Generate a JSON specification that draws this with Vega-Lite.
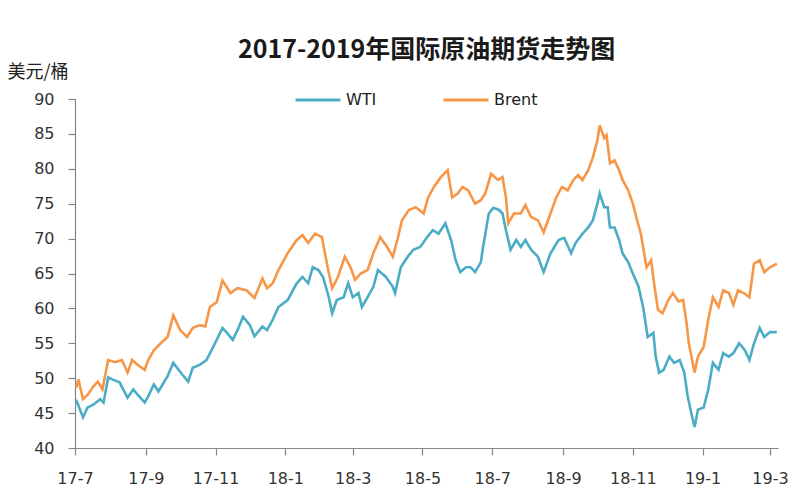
{
  "$schema": "https://vega.github.io/schema/vega-lite/v6.json",
  "autosize": {"type": "none"},
  "width": 703,
  "height": 349,
  "padding": {"left": 75, "top": 99, "right": 22, "bottom": 52},
  "background": "white",
  "title": {"text": "2017-2019年国际原油期货走势图", "font": "Noto Sans CJK SC", "fontSize": 25, "fontWeight": "bold", "color": "#1a1a1a", "anchor": "middle", "offset": 0},
  "config": {
    "view": {"stroke": null},
    "axis": {"domainColor": "#868686", "tickColor": "#868686", "labelColor": "#333333", "labelFont": "DejaVu Sans", "labelFontSize": 16, "grid": false, "tickSize": 7, "domainWidth": 1.2, "tickWidth": 1.2}
  },
  "data": {"values": [
    {"d":"2017-07-02","s":"WTI","p":46.9},{"d":"2017-07-08","s":"WTI","p":44.4},{"d":"2017-07-12","s":"WTI","p":45.8},{"d":"2017-07-17","s":"WTI","p":46.2},{"d":"2017-07-23","s":"WTI","p":47.0},{"d":"2017-07-26","s":"WTI","p":46.5},{"d":"2017-07-30","s":"WTI","p":50.1},{"d":"2017-08-03","s":"WTI","p":49.8},{"d":"2017-08-09","s":"WTI","p":49.4},{"d":"2017-08-16","s":"WTI","p":47.2},{"d":"2017-08-21","s":"WTI","p":48.4},{"d":"2017-08-25","s":"WTI","p":47.6},{"d":"2017-08-31","s":"WTI","p":46.5},{"d":"2017-09-03","s":"WTI","p":47.4},{"d":"2017-09-08","s":"WTI","p":49.1},{"d":"2017-09-12","s":"WTI","p":48.1},{"d":"2017-09-20","s":"WTI","p":50.3},{"d":"2017-09-25","s":"WTI","p":52.2},{"d":"2017-10-03","s":"WTI","p":50.5},{"d":"2017-10-08","s":"WTI","p":49.5},{"d":"2017-10-12","s":"WTI","p":51.5},{"d":"2017-10-18","s":"WTI","p":51.9},{"d":"2017-10-24","s":"WTI","p":52.6},{"d":"2017-10-30","s":"WTI","p":54.5},{"d":"2017-11-07","s":"WTI","p":57.2},{"d":"2017-11-11","s":"WTI","p":56.5},{"d":"2017-11-16","s":"WTI","p":55.5},{"d":"2017-11-21","s":"WTI","p":57.2},{"d":"2017-11-25","s":"WTI","p":58.8},{"d":"2017-12-01","s":"WTI","p":57.6},{"d":"2017-12-05","s":"WTI","p":56.0},{"d":"2017-12-12","s":"WTI","p":57.4},{"d":"2017-12-16","s":"WTI","p":56.9},{"d":"2017-12-21","s":"WTI","p":58.4},{"d":"2017-12-26","s":"WTI","p":60.2},
    {"d":"2018-01-03","s":"WTI","p":61.2},{"d":"2018-01-11","s":"WTI","p":63.6},{"d":"2018-01-16","s":"WTI","p":64.5},{"d":"2018-01-21","s":"WTI","p":63.6},{"d":"2018-01-25","s":"WTI","p":65.9},{"d":"2018-01-30","s":"WTI","p":65.5},{"d":"2018-02-03","s":"WTI","p":64.5},{"d":"2018-02-08","s":"WTI","p":61.6},{"d":"2018-02-11","s":"WTI","p":59.3},{"d":"2018-02-15","s":"WTI","p":61.2},{"d":"2018-02-21","s":"WTI","p":61.6},{"d":"2018-02-25","s":"WTI","p":63.6},{"d":"2018-03-01","s":"WTI","p":61.6},{"d":"2018-03-06","s":"WTI","p":62.2},{"d":"2018-03-09","s":"WTI","p":60.2},{"d":"2018-03-14","s":"WTI","p":61.6},{"d":"2018-03-19","s":"WTI","p":63.1},{"d":"2018-03-23","s":"WTI","p":65.5},{"d":"2018-03-30","s":"WTI","p":64.5},{"d":"2018-04-05","s":"WTI","p":63.1},{"d":"2018-04-07","s":"WTI","p":62.2},{"d":"2018-04-12","s":"WTI","p":65.9},{"d":"2018-04-18","s":"WTI","p":67.4},{"d":"2018-04-23","s":"WTI","p":68.4},{"d":"2018-04-29","s":"WTI","p":68.8},{"d":"2018-05-05","s":"WTI","p":70.2},{"d":"2018-05-10","s":"WTI","p":71.2},{"d":"2018-05-15","s":"WTI","p":70.7},{"d":"2018-05-21","s":"WTI","p":72.2},{"d":"2018-05-26","s":"WTI","p":69.8},{"d":"2018-05-30","s":"WTI","p":66.9},{"d":"2018-06-03","s":"WTI","p":65.2},{"d":"2018-06-08","s":"WTI","p":65.9},{"d":"2018-06-12","s":"WTI","p":65.9},{"d":"2018-06-16","s":"WTI","p":65.2},{"d":"2018-06-21","s":"WTI","p":66.6},{"d":"2018-06-23","s":"WTI","p":68.8},{"d":"2018-06-28","s":"WTI","p":73.6},{"d":"2018-07-02","s":"WTI","p":74.4},{"d":"2018-07-07","s":"WTI","p":74.1},{"d":"2018-07-10","s":"WTI","p":73.6},{"d":"2018-07-13","s":"WTI","p":71.2},{"d":"2018-07-17","s":"WTI","p":68.4},{"d":"2018-07-22","s":"WTI","p":69.8},{"d":"2018-07-26","s":"WTI","p":68.8},{"d":"2018-07-30","s":"WTI","p":69.8},{"d":"2018-08-04","s":"WTI","p":68.4},{"d":"2018-08-10","s":"WTI","p":67.4},{"d":"2018-08-15","s":"WTI","p":65.2},{"d":"2018-08-21","s":"WTI","p":67.9},{"d":"2018-08-28","s":"WTI","p":69.8},{"d":"2018-09-02","s":"WTI","p":70.1},{"d":"2018-09-08","s":"WTI","p":67.9},{"d":"2018-09-12","s":"WTI","p":69.4},{"d":"2018-09-18","s":"WTI","p":70.7},{"d":"2018-09-23","s":"WTI","p":71.6},{"d":"2018-09-27","s":"WTI","p":72.6},{"d":"2018-10-01","s":"WTI","p":75.0},{"d":"2018-10-03","s":"WTI","p":76.5},{"d":"2018-10-07","s":"WTI","p":74.5},{"d":"2018-10-10","s":"WTI","p":74.5},{"d":"2018-10-12","s":"WTI","p":71.6},{"d":"2018-10-16","s":"WTI","p":71.6},{"d":"2018-10-20","s":"WTI","p":69.8},{"d":"2018-10-23","s":"WTI","p":67.9},{"d":"2018-10-28","s":"WTI","p":66.6},{"d":"2018-11-01","s":"WTI","p":65.0},{"d":"2018-11-06","s":"WTI","p":63.1},{"d":"2018-11-10","s":"WTI","p":60.2},{"d":"2018-11-14","s":"WTI","p":55.9},{"d":"2018-11-19","s":"WTI","p":56.5},{"d":"2018-11-21","s":"WTI","p":53.1},{"d":"2018-11-24","s":"WTI","p":50.8},{"d":"2018-11-28","s":"WTI","p":51.2},{"d":"2018-12-03","s":"WTI","p":53.1},{"d":"2018-12-07","s":"WTI","p":52.2},{"d":"2018-12-12","s":"WTI","p":52.6},{"d":"2018-12-16","s":"WTI","p":50.8},{"d":"2018-12-19","s":"WTI","p":47.4},{"d":"2018-12-22","s":"WTI","p":45.1},{"d":"2018-12-25","s":"WTI","p":43.0},{"d":"2018-12-28","s":"WTI","p":45.5},{"d":"2019-01-02","s":"WTI","p":45.8},{"d":"2019-01-06","s":"WTI","p":48.4},{"d":"2019-01-10","s":"WTI","p":52.2},{"d":"2019-01-15","s":"WTI","p":51.2},{"d":"2019-01-19","s":"WTI","p":53.6},{"d":"2019-01-24","s":"WTI","p":53.1},{"d":"2019-01-28","s":"WTI","p":53.6},{"d":"2019-02-02","s":"WTI","p":55.0},{"d":"2019-02-07","s":"WTI","p":54.0},{"d":"2019-02-11","s":"WTI","p":52.6},{"d":"2019-02-15","s":"WTI","p":55.0},{"d":"2019-02-20","s":"WTI","p":57.2},{"d":"2019-02-24","s":"WTI","p":55.9},{"d":"2019-03-01","s":"WTI","p":56.6},{"d":"2019-03-07","s":"WTI","p":56.6},
    {"d":"2017-07-02","s":"Brent","p":48.6},{"d":"2017-07-04","s":"Brent","p":49.8},{"d":"2017-07-08","s":"Brent","p":47.0},{"d":"2017-07-12","s":"Brent","p":47.6},{"d":"2017-07-17","s":"Brent","p":48.8},{"d":"2017-07-21","s":"Brent","p":49.5},{"d":"2017-07-25","s":"Brent","p":48.4},{"d":"2017-07-30","s":"Brent","p":52.6},{"d":"2017-08-05","s":"Brent","p":52.3},{"d":"2017-08-11","s":"Brent","p":52.6},{"d":"2017-08-16","s":"Brent","p":50.8},{"d":"2017-08-20","s":"Brent","p":52.6},{"d":"2017-08-25","s":"Brent","p":51.9},{"d":"2017-08-31","s":"Brent","p":51.2},{"d":"2017-09-03","s":"Brent","p":52.6},{"d":"2017-09-08","s":"Brent","p":54.0},{"d":"2017-09-14","s":"Brent","p":55.0},{"d":"2017-09-20","s":"Brent","p":55.9},{"d":"2017-09-25","s":"Brent","p":59.0},{"d":"2017-10-01","s":"Brent","p":56.9},{"d":"2017-10-07","s":"Brent","p":55.9},{"d":"2017-10-12","s":"Brent","p":57.2},{"d":"2017-10-18","s":"Brent","p":57.6},{"d":"2017-10-23","s":"Brent","p":57.4},{"d":"2017-10-27","s":"Brent","p":60.2},{"d":"2017-11-02","s":"Brent","p":60.9},{"d":"2017-11-07","s":"Brent","p":64.0},{"d":"2017-11-14","s":"Brent","p":62.2},{"d":"2017-11-20","s":"Brent","p":62.9},{"d":"2017-11-28","s":"Brent","p":62.6},{"d":"2017-12-05","s":"Brent","p":61.5},{"d":"2017-12-12","s":"Brent","p":64.3},{"d":"2017-12-16","s":"Brent","p":62.9},{"d":"2017-12-21","s":"Brent","p":63.6},{"d":"2017-12-26","s":"Brent","p":65.5},
    {"d":"2018-01-03","s":"Brent","p":67.9},{"d":"2018-01-11","s":"Brent","p":69.8},{"d":"2018-01-16","s":"Brent","p":70.5},{"d":"2018-01-21","s":"Brent","p":69.4},{"d":"2018-01-27","s":"Brent","p":70.7},{"d":"2018-02-02","s":"Brent","p":70.2},{"d":"2018-02-07","s":"Brent","p":65.9},{"d":"2018-02-11","s":"Brent","p":62.9},{"d":"2018-02-16","s":"Brent","p":64.5},{"d":"2018-02-22","s":"Brent","p":67.4},{"d":"2018-02-27","s":"Brent","p":65.9},{"d":"2018-03-03","s":"Brent","p":64.1},{"d":"2018-03-08","s":"Brent","p":65.0},{"d":"2018-03-14","s":"Brent","p":65.5},{"d":"2018-03-19","s":"Brent","p":67.9},{"d":"2018-03-25","s":"Brent","p":70.2},{"d":"2018-03-31","s":"Brent","p":68.8},{"d":"2018-04-05","s":"Brent","p":67.4},{"d":"2018-04-09","s":"Brent","p":69.8},{"d":"2018-04-13","s":"Brent","p":72.6},{"d":"2018-04-19","s":"Brent","p":74.1},{"d":"2018-04-25","s":"Brent","p":74.5},{"d":"2018-05-02","s":"Brent","p":73.6},{"d":"2018-05-06","s":"Brent","p":75.9},{"d":"2018-05-11","s":"Brent","p":77.4},{"d":"2018-05-17","s":"Brent","p":78.8},{"d":"2018-05-23","s":"Brent","p":79.8},{"d":"2018-05-27","s":"Brent","p":75.9},{"d":"2018-06-01","s":"Brent","p":76.5},{"d":"2018-06-05","s":"Brent","p":77.4},{"d":"2018-06-10","s":"Brent","p":76.9},{"d":"2018-06-16","s":"Brent","p":75.0},{"d":"2018-06-21","s":"Brent","p":75.5},{"d":"2018-06-25","s":"Brent","p":76.5},{"d":"2018-06-30","s":"Brent","p":79.3},{"d":"2018-07-06","s":"Brent","p":78.4},{"d":"2018-07-10","s":"Brent","p":78.8},{"d":"2018-07-13","s":"Brent","p":75.9},{"d":"2018-07-15","s":"Brent","p":72.2},{"d":"2018-07-20","s":"Brent","p":73.6},{"d":"2018-07-26","s":"Brent","p":73.6},{"d":"2018-07-30","s":"Brent","p":74.8},{"d":"2018-08-04","s":"Brent","p":73.1},{"d":"2018-08-10","s":"Brent","p":72.6},{"d":"2018-08-15","s":"Brent","p":70.9},{"d":"2018-08-21","s":"Brent","p":73.6},{"d":"2018-08-26","s":"Brent","p":75.9},{"d":"2018-08-31","s":"Brent","p":77.4},{"d":"2018-09-05","s":"Brent","p":76.9},{"d":"2018-09-10","s":"Brent","p":78.4},{"d":"2018-09-14","s":"Brent","p":79.1},{"d":"2018-09-18","s":"Brent","p":78.4},{"d":"2018-09-23","s":"Brent","p":79.8},{"d":"2018-09-27","s":"Brent","p":81.6},{"d":"2018-10-01","s":"Brent","p":84.1},{"d":"2018-10-03","s":"Brent","p":86.2},{"d":"2018-10-07","s":"Brent","p":84.4},{"d":"2018-10-09","s":"Brent","p":84.8},{"d":"2018-10-12","s":"Brent","p":80.8},{"d":"2018-10-16","s":"Brent","p":81.2},{"d":"2018-10-20","s":"Brent","p":79.8},{"d":"2018-10-23","s":"Brent","p":78.4},{"d":"2018-10-28","s":"Brent","p":76.9},{"d":"2018-11-01","s":"Brent","p":75.0},{"d":"2018-11-04","s":"Brent","p":73.1},{"d":"2018-11-08","s":"Brent","p":70.7},{"d":"2018-11-13","s":"Brent","p":65.9},{"d":"2018-11-17","s":"Brent","p":66.9},{"d":"2018-11-20","s":"Brent","p":63.1},{"d":"2018-11-23","s":"Brent","p":59.8},{"d":"2018-11-27","s":"Brent","p":59.3},{"d":"2018-12-02","s":"Brent","p":61.2},{"d":"2018-12-06","s":"Brent","p":62.2},{"d":"2018-12-11","s":"Brent","p":61.0},{"d":"2018-12-15","s":"Brent","p":61.2},{"d":"2018-12-18","s":"Brent","p":57.9},{"d":"2018-12-20","s":"Brent","p":55.0},{"d":"2018-12-25","s":"Brent","p":50.8},{"d":"2018-12-28","s":"Brent","p":53.1},{"d":"2019-01-02","s":"Brent","p":54.5},{"d":"2019-01-06","s":"Brent","p":58.4},{"d":"2019-01-10","s":"Brent","p":61.6},{"d":"2019-01-15","s":"Brent","p":60.2},{"d":"2019-01-19","s":"Brent","p":62.6},{"d":"2019-01-24","s":"Brent","p":62.2},{"d":"2019-01-28","s":"Brent","p":60.5},{"d":"2019-02-01","s":"Brent","p":62.6},{"d":"2019-02-06","s":"Brent","p":62.2},{"d":"2019-02-11","s":"Brent","p":61.6},{"d":"2019-02-15","s":"Brent","p":66.4},{"d":"2019-02-20","s":"Brent","p":66.9},{"d":"2019-02-24","s":"Brent","p":65.2},{"d":"2019-03-01","s":"Brent","p":65.9},{"d":"2019-03-07","s":"Brent","p":66.4}
  ]},
  "mark": {"type": "line", "strokeWidth": 2.6, "interpolate": "linear"},
  "encoding": {
    "x": {
      "field": "d", "type": "temporal",
      "scale": {"type": "utc", "domain": [{"year": 2017, "month": 7, "date": 1, "utc": true}, {"year": 2019, "month": 3, "date": 8, "utc": true}]},
      "axis": {
        "title": null, "format": "%y-%-m", "labelPadding": 15, "labelFlush": false, "labelOverlap": false,
        "values": [
          {"year": 2017, "month": 7, "date": 1, "utc": true},
          {"year": 2017, "month": 9, "date": 1, "utc": true},
          {"year": 2017, "month": 11, "date": 1, "utc": true},
          {"year": 2018, "month": 1, "date": 1, "utc": true},
          {"year": 2018, "month": 3, "date": 1, "utc": true},
          {"year": 2018, "month": 5, "date": 1, "utc": true},
          {"year": 2018, "month": 7, "date": 1, "utc": true},
          {"year": 2018, "month": 9, "date": 1, "utc": true},
          {"year": 2018, "month": 11, "date": 1, "utc": true},
          {"year": 2019, "month": 1, "date": 1, "utc": true},
          {"year": 2019, "month": 3, "date": 1, "utc": true}
        ]
      }
    },
    "y": {
      "field": "p", "type": "quantitative",
      "scale": {"domain": [40, 90], "nice": false, "zero": false},
      "axis": {
        "title": "美元/桶", "titleAngle": 0, "titleX": -68, "titleY": -27, "titleAlign": "left", "titleBaseline": "middle",
        "titleFont": "Noto Sans CJK SC", "titleFontSize": 18, "titleFontWeight": "normal", "titleColor": "#222222",
        "values": [40, 45, 50, 55, 60, 65, 70, 75, 80, 85, 90], "labelPadding": 14
      }
    },
    "color": {
      "field": "s", "type": "nominal",
      "scale": {"domain": ["WTI", "Brent"], "range": ["#4BACC6", "#F79646"]},
      "legend": {
        "title": null, "orient": "none", "legendX": 219, "legendY": -23, "direction": "horizontal",
        "symbolType": "stroke", "symbolSize": 2025, "symbolStrokeWidth": 3, "labelFont": "DejaVu Sans", "labelFontSize": 16,
        "labelColor": "#222222", "labelOffset": 4, "columnPadding": 60
      }
    }
  }
}
